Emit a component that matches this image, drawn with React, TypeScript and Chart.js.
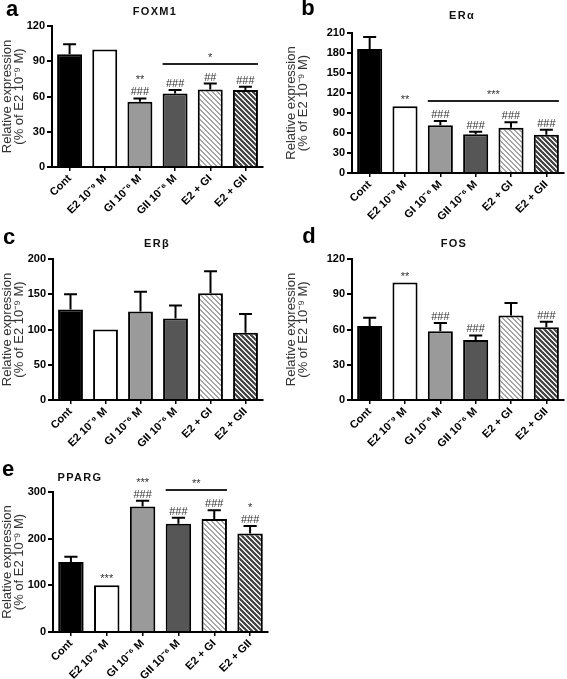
import React, { useEffect, useRef } from 'react';
import { Chart, registerables } from 'chart.js';

Chart.register(...registerables);

const FONT = '"Liberation Sans", Arial, Helvetica, sans-serif';

// ---------- data ----------
const CATEGORIES = ['Cont', 'E2 10⁻⁹ M', 'GI 10⁻⁶ M', 'GII 10⁻⁶ M', 'E2 + GI', 'E2 + GII'];
const Y_TITLE = ['Relative expression', '(% of E2 10⁻⁹ M)'];

const FOXM1_MEAN = [96, 100, 55.5, 62.5, 66, 65.5];
const FOXM1_SEM = [8.5, 0, 2.8, 3, 5, 2.8];
const FOXM1_TICKS = [0, 30, 60, 90, 120];
const FOXM1_MARKS = [[], [], ['###', '**'], ['###'], ['##'], ['###']];
const FOXM1_BRACKETS = [{ from: 3, to: 5, label: '*' }];

const ERA_MEAN = [186, 100, 71.5, 58, 68, 57.5];
const ERA_SEM = [18, 0, 6.5, 4, 8, 7.5];
const ERA_TICKS = [0, 30, 60, 90, 120, 150, 180, 210];
const ERA_MARKS = [[], ['**'], ['###'], ['###'], ['###'], ['###']];
const ERA_BRACKETS = [{ from: 2, to: 5, label: '***' }];

const ERB_MEAN = [128.5, 100, 125.5, 115.5, 151.5, 95.5];
const ERB_SEM = [21.5, 0, 28, 18.5, 31, 26.5];
const ERB_TICKS = [0, 50, 100, 150, 200];
const ERB_MARKS = [[], [], [], [], [], []];
const ERB_BRACKETS: { from: number; to: number; label: string }[] = [];

const FOS_MEAN = [63, 100, 58.5, 51, 72, 62];
const FOS_SEM = [7, 0, 7, 4, 10.5, 4.5];
const FOS_TICKS = [0, 30, 60, 90, 120];
const FOS_MARKS = [[], ['**'], ['###'], ['###'], [], ['###']];
const FOS_BRACKETS: { from: number; to: number; label: string }[] = [];

const PPARG_MEAN = [150, 100, 269, 232, 242, 211];
const PPARG_SEM = [11, 0, 12, 13, 19, 16];
const PPARG_TICKS = [0, 100, 200, 300];
const PPARG_MARKS = [[], ['***'], ['###', '***'], ['###'], ['###'], ['###', '*']];
const PPARG_BRACKETS = [{ from: 3, to: 4, label: '**' }];

// ---------- layout ----------
type Area = { left: number; top: number; right: number; bottom: number };
type PanelCfg = {
  letter: string; title: string;
  mean: number[]; sem: number[]; ticks: number[];
  marks: string[][]; brackets: { from: number; to: number; label: string }[];
  canvas: { x: number; y: number; w: number; h: number };
  area: Area;
  letterPos: [number, number]; titlePos: [number, number];
};

const PANELS: PanelCfg[] = [
  { letter: 'a', title: 'FOXM1', mean: FOXM1_MEAN, sem: FOXM1_SEM, ticks: FOXM1_TICKS, marks: FOXM1_MARKS, brackets: FOXM1_BRACKETS,
    canvas: { x: 0, y: 0, w: 284, h: 228 }, area: { left: 52, top: 26, right: 263, bottom: 167 }, letterPos: [12, 9], titlePos: [155, 11] },
  { letter: 'b', title: 'ERα', mean: ERA_MEAN, sem: ERA_SEM, ticks: ERA_TICKS, marks: ERA_MARKS, brackets: ERA_BRACKETS,
    canvas: { x: 284, y: 0, w: 283, h: 228 }, area: { left: 68, top: 33, right: 280, bottom: 173 }, letterPos: [308, 8], titlePos: [462, 15] },
  { letter: 'c', title: 'ERβ', mean: ERB_MEAN, sem: ERB_SEM, ticks: ERB_TICKS, marks: ERB_MARKS, brackets: ERB_BRACKETS,
    canvas: { x: 0, y: 225, w: 284, h: 230 }, area: { left: 53, top: 34, right: 263, bottom: 175 }, letterPos: [9, 237], titlePos: [157, 243] },
  { letter: 'd', title: 'FOS', mean: FOS_MEAN, sem: FOS_SEM, ticks: FOS_TICKS, marks: FOS_MARKS, brackets: FOS_BRACKETS,
    canvas: { x: 284, y: 225, w: 283, h: 230 }, area: { left: 68, top: 34, right: 280, bottom: 175 }, letterPos: [309, 236], titlePos: [454, 243] },
  { letter: 'e', title: 'PPARG', mean: PPARG_MEAN, sem: PPARG_SEM, ticks: PPARG_TICKS, marks: PPARG_MARKS, brackets: PPARG_BRACKETS,
    canvas: { x: 0, y: 455, w: 284, h: 224 }, area: { left: 53, top: 37, right: 268, bottom: 177 }, letterPos: [8, 469], titlePos: [80, 477] },
];

function makeStripes(fg: string, bg: string, period: number, width: number): any {
  const c = document.createElement('canvas');
  c.width = period; c.height = period;
  const ctx = c.getContext('2d')!;
  ctx.fillStyle = bg; ctx.fillRect(0, 0, period, period);
  ctx.fillStyle = fg;
  for (let y = 0; y < period; y++) {
    for (let x = 0; x < period; x++) {
      const d = (((x - y) % period) + period) % period;
      if (d < width) ctx.fillRect(x, y, 1, 1);
    }
  }
  return ctx.createPattern(c, 'repeat');
}

const errorBarPlugin = {
  id: 'errorBars',
  afterDatasetsDraw(chart: any, _args: any, opts: any) {
    const { ctx } = chart;
    const y = chart.scales.y;
    const meta = chart.getDatasetMeta(0);
    const mean: number[] = opts.mean, sem: number[] = opts.sem;
    ctx.save();
    ctx.strokeStyle = '#000';
    ctx.lineWidth = 2;
    meta.data.forEach((bar: any, i: number) => {
      const s = sem[i];
      if (!s) return;
      const x = bar.x, w = bar.width;
      const yTop = y.getPixelForValue(mean[i]);
      const yErr = y.getPixelForValue(mean[i] + s);
      const half = w * 0.26;
      ctx.beginPath();
      ctx.moveTo(x, yTop); ctx.lineTo(x, yErr);
      ctx.moveTo(x - half, yErr); ctx.lineTo(x + half, yErr);
      ctx.stroke();
    });
    ctx.restore();
  },
};

const sigPlugin = {
  id: 'sig',
  afterDatasetsDraw(chart: any, _args: any, opts: any) {
    const { ctx } = chart;
    const y = chart.scales.y;
    const meta = chart.getDatasetMeta(0);
    const mean: number[] = opts.mean, sem: number[] = opts.sem;
    const marks: string[][] = opts.marks, brackets = opts.brackets;
    const LINE = 12, GAP = 3;
    ctx.save();
    ctx.font = `11px ${FONT}`;
    ctx.fillStyle = '#333';
    ctx.textAlign = 'center';
    ctx.textBaseline = 'alphabetic';
    const tops: number[] = [];
    meta.data.forEach((bar: any, i: number) => {
      const top = y.getPixelForValue(mean[i] + (sem[i] || 0));
      const stack = marks[i] || [];
      stack.forEach((t, k) => ctx.fillText(t, bar.x, top - GAP - k * LINE));
      tops[i] = top - stack.length * LINE;
    });
    brackets.forEach((b: any) => {
      const l = meta.data[b.from], r = meta.data[b.to];
      let minTop = Infinity;
      for (let i = b.from; i <= b.to; i++) minTop = Math.min(minTop, tops[i]);
      const ly = Math.round(minTop - 8);
      ctx.strokeStyle = '#222';
      ctx.lineWidth = 2;
      ctx.beginPath();
      ctx.moveTo(l.x - l.width / 2, ly);
      ctx.lineTo(r.x + r.width / 2, ly);
      ctx.stroke();
      ctx.fillText(b.label, (l.x + r.x) / 2, ly - 3);
    });
    ctx.restore();
  },
};

function Panel({ cfg }: { cfg: PanelCfg }) {
  const ref = useRef<HTMLCanvasElement>(null);
  useEffect(() => {
    const { w, h } = cfg.canvas;
    const a = cfg.area;
    const fills = [
      '#000000', '#ffffff', '#9a9a9a', '#565656',
      makeStripes('#a6a6a6', '#ffffff', 5, 2),
      makeStripes('#474747', '#e8e8e8', 5, 3),
    ];
    const tickFont = { family: FONT, size: 11, weight: 'bold' as const };
    const chart = new Chart(ref.current!, {
      type: 'bar',
      data: {
        labels: CATEGORIES,
        datasets: [{
          data: cfg.mean,
          backgroundColor: fills,
          borderColor: '#000',
          borderWidth: 2,
          borderSkipped: 'start',
          barPercentage: 0.71,
          categoryPercentage: 1,
        }],
      },
      options: {
        responsive: false,
        animation: false,
        events: [],
        layout: { padding: { top: a.top, right: w - a.right, left: 0, bottom: 0 } },
        plugins: {
          legend: { display: false },
          tooltip: { enabled: false },
          title: { display: false },
          errorBars: { mean: cfg.mean, sem: cfg.sem },
          sig: { mean: cfg.mean, sem: cfg.sem, marks: cfg.marks, brackets: cfg.brackets },
        } as any,
        scales: {
          x: {
            offset: true,
            grid: { display: true, offset: false, drawOnChartArea: false, drawTicks: true, tickLength: 4, color: '#000', lineWidth: 1.5 },
            border: { display: true, color: '#000', width: 2 },
            ticks: { autoSkip: false, minRotation: 45, maxRotation: 45, font: tickFont, color: '#000', padding: 1 },
            afterFit: (s: any) => { s.height = h - a.bottom; },
          },
          y: {
            min: cfg.ticks[0],
            max: cfg.ticks[cfg.ticks.length - 1],
            ticks: { stepSize: cfg.ticks[1] - cfg.ticks[0], font: tickFont, color: '#000', padding: 2 },
            grid: { display: true, drawOnChartArea: false, drawTicks: true, tickLength: 5, color: '#000', lineWidth: 2 },
            border: { display: true, color: '#000', width: 2 },
            title: {
              display: true,
              text: Y_TITLE,
              font: { family: FONT, size: 13, lineHeight: 0.9 },
              color: '#333',
              padding: { top: 1.5, bottom: 0 },
            },
            afterFit: (s: any) => { s.width = a.left; },
          },
        },
      } as any,
      plugins: [errorBarPlugin, sigPlugin],
    });
    return () => chart.destroy();
  }, [cfg]);
  const { x, y, w, h } = cfg.canvas;
  return (
    <canvas
      ref={ref}
      width={w}
      height={h}
      style={{ position: 'absolute', left: x, top: y, width: w, height: h }}
    />
  );
}

export default function App() {
  return (
    <div style={{ position: 'absolute', left: 0, top: 0, width: 567, height: 679, background: '#fff', overflow: 'hidden', fontFamily: FONT }}>
      {PANELS.map((p) => (
        <Panel key={p.letter} cfg={p} />
      ))}
      {PANELS.map((p) => (
        <div key={'l' + p.letter} style={{
          position: 'absolute', left: p.letterPos[0], top: p.letterPos[1],
          transform: 'translate(-50%, -50%)', fontSize: 22, fontWeight: 'bold', lineHeight: 1, color: '#000',
        }}>{p.letter}</div>
      ))}
      {PANELS.map((p) => (
        <div key={'t' + p.letter} style={{
          position: 'absolute', left: p.titlePos[0], top: p.titlePos[1],
          transform: 'translate(-50%, -50%)', fontSize: 11, fontWeight: 'bold', letterSpacing: 1.3,
          lineHeight: 1, color: '#111', whiteSpace: 'nowrap',
        }}>{p.title}</div>
      ))}
    </div>
  );
}
